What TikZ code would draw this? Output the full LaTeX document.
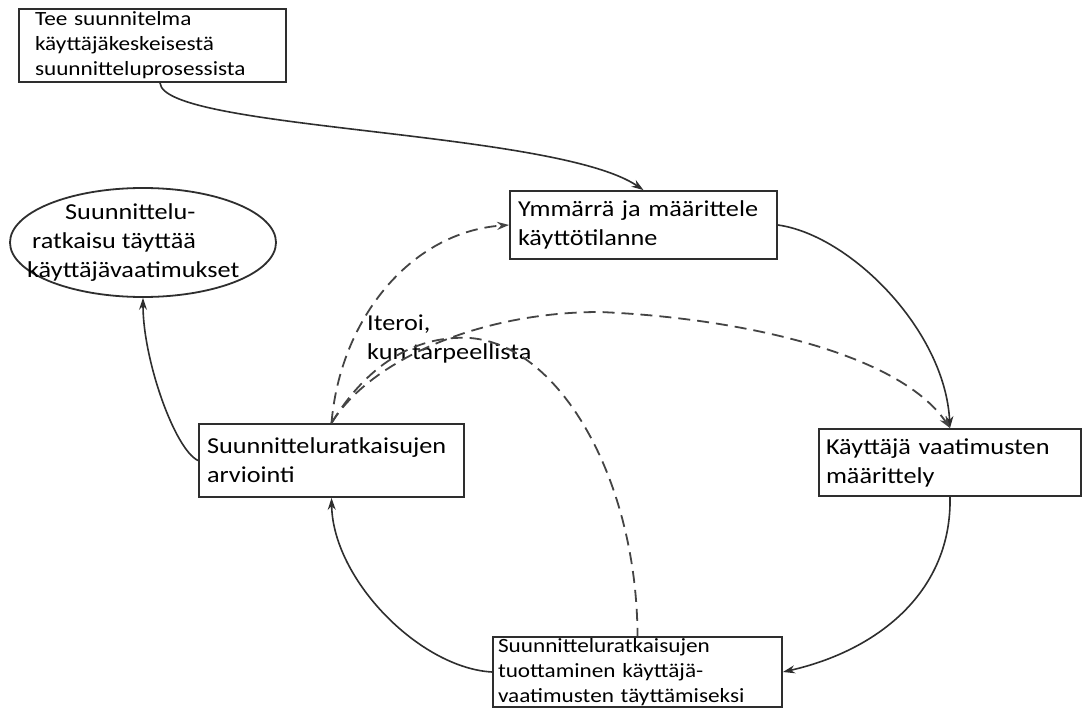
\documentclass[tikz,border=0pt]{standalone}
\usepackage{fontspec}
\setmainfont{Carlito}[FakeStretch=1.15]
\usetikzlibrary{arrows.meta,shapes.geometric}
\definecolor{linec}{HTML}{2E2E2E}
\definecolor{dashc}{HTML}{444444}
\newcommand\myBig{\fontsize{22.8}{29}\selectfont}
\newcommand\mySmall{\fontsize{20.2}{25}\selectfont}
\begin{document}
\begin{tikzpicture}[x=1pt,y=-1pt,
  box/.style={draw=linec, line width=1.8pt, rectangle, align=left, inner ysep=0pt, font=\myBig},
  sarrow/.style={draw=linec, line width=1.6pt, -{Stealth[length=12pt,width=8pt]}},
  darrow/.style={draw=dashc, line width=1.8pt, dash pattern=on 12pt off 7pt, -{Stealth[length=12pt,width=8pt]}},
  dline/.style={draw=dashc, line width=1.8pt, dash pattern=on 12pt off 7pt}]
\useasboundingbox[fill=white] (0,0) rectangle (1082,709);

% nodes
\node[box, font=\mySmall, minimum width=267pt, minimum height=73pt, inner xsep=16pt, text width=235pt] (top) at (152.5,45.5)
  {Tee suunnitelma\\käyttäjäkeskeisestä\\suunnitteluprosessista};
\node[box, minimum width=267pt, minimum height=68pt, inner xsep=8pt, text width=251pt] (ymm) at (643.5,225)
  {Ymmärrä ja määrittele\\käyttötilanne};
\node[box, minimum width=262pt, minimum height=67pt, inner xsep=7pt, text width=248pt] (kay) at (950,462.5)
  {Käyttäjä vaatimusten\\määrittely};
\node[box, minimum width=265pt, minimum height=73pt, inner xsep=8pt, text width=249pt] (arv) at (331.5,460.5)
  {Suunnitteluratkaisujen\\arviointi};
\node[box, font=\mySmall, minimum width=289pt, minimum height=70pt, inner xsep=5pt, text width=279pt] (bot) at (637.5,672)
  {Suunnitteluratkaisujen\\tuottaminen käyttäjä-\\vaatimusten täyttämiseksi};
\node[ellipse, draw=linec, line width=1.8pt, minimum width=266pt, minimum height=109pt, inner sep=0pt] (ell) at (143,242.5) {};
\node[anchor=west, align=left, inner sep=0pt, font=\myBig] (elltext) at (27,243)
  {\hspace*{38pt}Suunnittelu-\\\hspace*{5pt}ratkaisu täyttää\\käyttäjävaatimukset};
\node[anchor=west, align=left, inner sep=0pt, font=\myBig] (lab) at (367,338.5)
  {Iteroi,\\kun tarpeellista};

% solid connectors
\draw[sarrow] ([xshift=7.5pt]top.south) .. controls (163,130) and (555,130) .. (ymm.north);
\draw[sarrow] (ymm.east) .. controls (850,235) and (945,330) .. (kay.north);
\draw[sarrow] (kay.south) .. controls (952,590) and (880,650) .. (bot.east);
\draw[sarrow] (bot.west) .. controls (420,668) and (333,580) .. (arv.south);
\draw[sarrow] (arv.west) .. controls (175,450) and (143,360) .. (ell.south);

% dashed connectors
\coordinate (peak) at (600,312);
\coordinate (bend) at (470,338);
\draw[darrow] (arv.north) .. controls (340,320) and (410,232) .. (ymm.west);
\draw[darrow] (arv.north) .. controls (370,360) and (480,312) .. (peak) .. controls (740,318) and (899,353) .. (kay.north);
\draw[dline] (arv.north) .. controls (370,360) and (420,335) .. (bend) .. controls (560,345) and (637,480) .. (bot.north);
\end{tikzpicture}
\end{document}
